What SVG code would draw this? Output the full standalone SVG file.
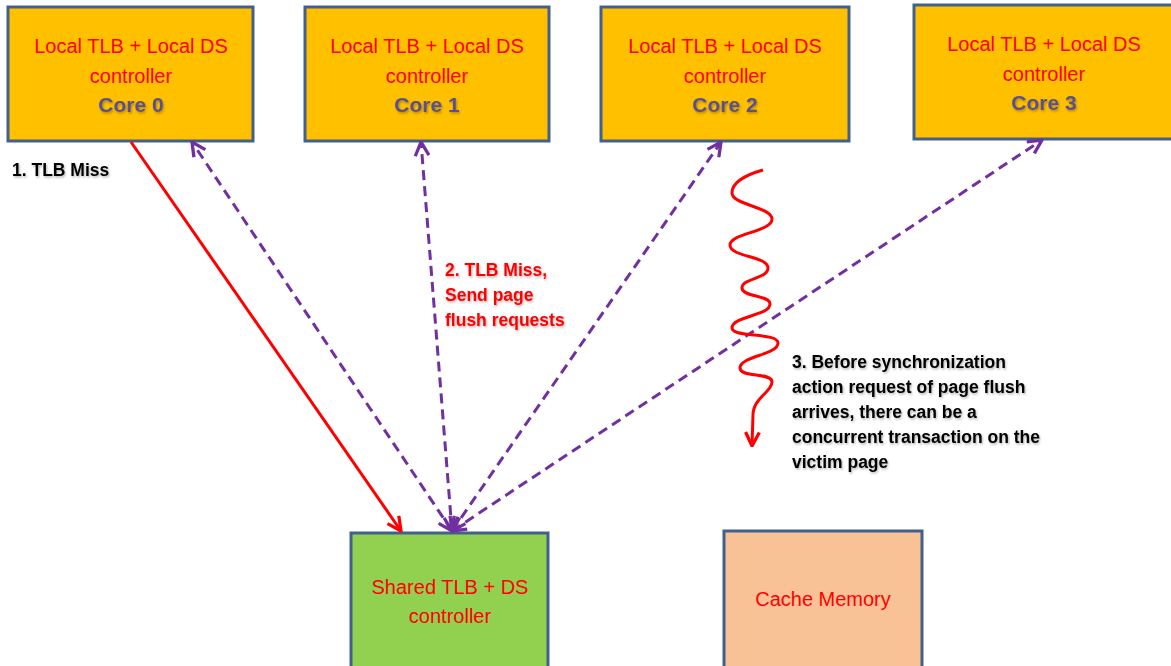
<svg xmlns="http://www.w3.org/2000/svg" width="1171" height="666" viewBox="0 0 1171 666">
  <style>
    .core { fill: #FFC000; stroke: #41618C; stroke-width: 3; }
    .shared { fill: #92D050; stroke: #41618C; stroke-width: 3; }
    .cache { fill: #F9C196; stroke: #41618C; stroke-width: 3; }
    .lbl { font-family: "Liberation Sans", Arial, sans-serif; font-size: 20px; fill: #FF0000; text-anchor: middle; }
    .core-id { font-family: "Liberation Sans", Arial, sans-serif; font-size: 21px; font-weight: bold; fill: #5B4F8E; text-anchor: middle; filter: url(#shadow); }
    .note { font-family: "Liberation Sans", Arial, sans-serif; font-size: 17.5px; font-weight: bold; fill: #000000; filter: url(#shadow); }
    .note-red { font-family: "Liberation Sans", Arial, sans-serif; font-size: 17.5px; font-weight: bold; fill: #FF0000; filter: url(#shadow); }
    .req { fill: none; stroke: #7030A0; stroke-width: 3; stroke-dasharray: 10 6; }
    .miss { fill: none; stroke: #FF0000; stroke-width: 3; }
  </style>
  <defs>
    <filter id="shadow" x="-10%" y="-20%" width="130%" height="160%">
      <feDropShadow dx="1" dy="1.5" stdDeviation="1" flood-color="#000000" flood-opacity="0.3"/>
    </filter>
    <marker id="arrow-purple" viewBox="0 0 12 12" refX="11" refY="6" markerWidth="5.5" markerHeight="5.5" orient="auto-start-reverse" markerUnits="strokeWidth">
      <path d="M1,1 L11,6 L1,11" fill="none" stroke="#7030A0" stroke-width="2.4"/>
    </marker>
    <marker id="arrow-red" viewBox="0 0 12 12" refX="11" refY="6" markerWidth="5.5" markerHeight="5.5" orient="auto" markerUnits="strokeWidth">
      <path d="M1,1 L11,6 L1,11" fill="none" stroke="#FF0000" stroke-width="2.4"/>
    </marker>
  </defs>

  <rect width="1171" height="666" fill="#FFFFFF"/>

  <!-- cores -->
  <g id="core0">
    <rect class="core" x="8" y="7" width="245" height="134"/>
    <text class="lbl" x="131" y="53">Local TLB + Local DS</text>
    <text class="lbl" x="131" y="83">controller</text>
    <text class="core-id" x="131" y="112">Core 0</text>
  </g>
  <g id="core1">
    <rect class="core" x="305" y="7" width="244" height="134"/>
    <text class="lbl" x="427" y="53">Local TLB + Local DS</text>
    <text class="lbl" x="427" y="83">controller</text>
    <text class="core-id" x="427" y="112">Core 1</text>
  </g>
  <g id="core2">
    <rect class="core" x="601" y="7" width="248" height="134"/>
    <text class="lbl" x="725" y="53">Local TLB + Local DS</text>
    <text class="lbl" x="725" y="83">controller</text>
    <text class="core-id" x="725" y="112">Core 2</text>
  </g>
  <g id="core3">
    <rect class="core" x="914" y="5" width="262" height="134"/>
    <text class="lbl" x="1044" y="51">Local TLB + Local DS</text>
    <text class="lbl" x="1044" y="81">controller</text>
    <text class="core-id" x="1044" y="110">Core 3</text>
  </g>

  <!-- shared and cache -->
  <g id="shared">
    <rect class="shared" x="351" y="533" width="197" height="140"/>
    <text class="lbl" x="450" y="594">Shared TLB + DS</text>
    <text class="lbl" x="450" y="623">controller</text>
  </g>
  <g id="cache">
    <rect class="cache" x="724" y="531" width="198" height="140"/>
    <text class="lbl" x="823" y="606">Cache Memory</text>
  </g>

  <!-- connectors -->
  <g id="connectors">
    <line class="miss" x1="131" y1="142" x2="401" y2="531" marker-end="url(#arrow-red)"/>
    <line class="req" x1="452" y1="531" x2="192" y2="142" marker-start="url(#arrow-purple)" marker-end="url(#arrow-purple)"/>
    <line class="req" x1="452" y1="531" x2="421" y2="142" marker-start="url(#arrow-purple)" marker-end="url(#arrow-purple)"/>
    <line class="req" x1="452" y1="531" x2="721" y2="142" marker-start="url(#arrow-purple)" marker-end="url(#arrow-purple)"/>
    <line class="req" x1="452" y1="531" x2="1042" y2="140" marker-start="url(#arrow-purple)" marker-end="url(#arrow-purple)"/>
    <!-- concurrent transaction (wavy) -->
    <path class="miss" marker-end="url(#arrow-red)" d="M763,170 C745,175 732,183 732,193 C732,205 772,207 772,219 C772,232 730,233 730,245 C730,257 768,256 768,268 C768,279 742,278 742,288 C742,297 770,295 770,304 C770,316 732,316 732,328 C732,338 778,332 778,343 C778,355 740,356 740,368 C740,378 772,372 772,382 C772,392 753,398 753,415 L752,446"/>
  </g>

  <!-- step notes -->
  <g id="notes">
    <text class="note" x="12" y="176">1. TLB Miss</text>
    <text class="note-red" x="445" y="276">2. TLB Miss,</text>
    <text class="note-red" x="445" y="301">Send page</text>
    <text class="note-red" x="445" y="326">flush requests</text>
    <text class="note" x="792" y="368">3. Before synchronization</text>
    <text class="note" x="792" y="393">action request of page flush</text>
    <text class="note" x="792" y="418">arrives, there can be a</text>
    <text class="note" x="792" y="443">concurrent transaction on the</text>
    <text class="note" x="792" y="468">victim page</text>
  </g>
</svg>
